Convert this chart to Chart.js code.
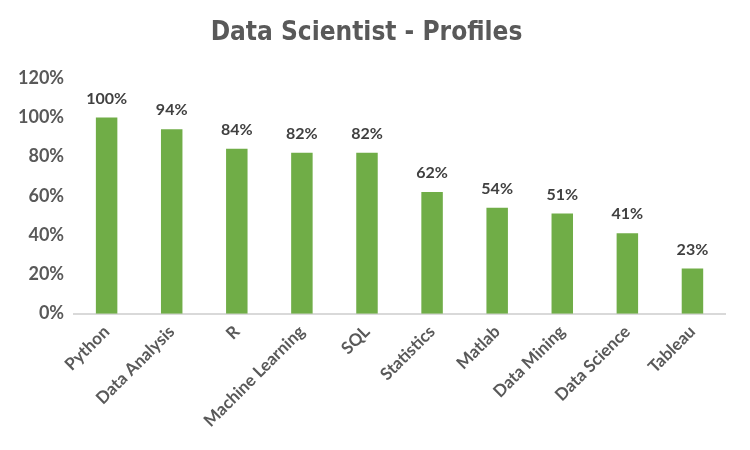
<!DOCTYPE html>
<html>
<head>
<meta charset="utf-8">
<script src="https://cdn.jsdelivr.net/npm/chart.js@4"></script>
<style>
  body { margin: 0; background: #fff; }
  #wrap { width: 750px; height: 450px; }
</style>
</head>
<body>
<div id="wrap"><canvas id="chart" width="750" height="450"></canvas></div>
<script>
const categories = ['Python', 'Data Analysis', 'R', 'Machine Learning', 'SQL', 'Statistics', 'Matlab', 'Data Mining', 'Data Science', 'Tableau'];
const shares = [100, 94, 84, 82, 82, 62, 54, 51, 41, 23];
const yTicks = [0, 20, 40, 60, 80, 100, 120];

const textColor = '#595959';
const fontFamily = 'Lato, "Open Sans", sans-serif';

// draw the value on top of each bar (no datalabels plugin offline)
const barLabels = {
    id: 'barLabels',
    afterDatasetsDraw(chart) {
        const ctx = chart.ctx;
        const meta = chart.getDatasetMeta(0);
        ctx.save();
        ctx.fillStyle = '#404040';
        ctx.font = `bold 16px ${fontFamily}`;
        ctx.textAlign = 'center';
        ctx.textBaseline = 'bottom';
        meta.data.forEach((bar, i) => {
            ctx.fillText(shares[i] + '%', bar.x, bar.y - 11);
        });
        ctx.restore();
    }
};

new Chart(document.getElementById('chart'), {
    type: 'bar',
    data: {
        labels: categories,
        datasets: [{
            data: shares,
            backgroundColor: '#70AD47',
            categoryPercentage: 1,
            barPercentage: 0.33
        }]
    },
    options: {
        responsive: false,
        animation: false,
        layout: { padding: { left: 8, right: 25, top: 0, bottom: 11 } },
        plugins: {
            legend: { display: false },
            tooltip: { enabled: false },
            title: {
                display: true,
                text: 'Data Scientist - Profiles',
                color: textColor,
                font: { family: '"DejaVu Sans Condensed", "DejaVu Sans", sans-serif', size: 26, weight: 'bold' },
                padding: { top: 18, bottom: 29 }
            }
        },
        scales: {
            x: {
                grid: { display: false, drawTicks: false },
                border: { color: '#D9D9D9', width: 2 },
                ticks: {
                    color: textColor,
                    font: { family: fontFamily, size: 17, weight: 'bold' },
                    minRotation: 45,
                    maxRotation: 45,
                    padding: 8
                }
            },
            y: {
                min: 0,
                max: 120,
                grid: { display: false, drawTicks: false },
                border: { display: false },
                afterBuildTicks(axis) {
                    axis.ticks = yTicks.map(v => ({ value: v }));
                },
                ticks: {
                    color: textColor,
                    font: { family: fontFamily, size: 18, weight: 'bold' },
                    padding: 10,
                    callback: v => v + '%'
                }
            }
        }
    },
    plugins: [barLabels]
});
</script>
</body>
</html>
